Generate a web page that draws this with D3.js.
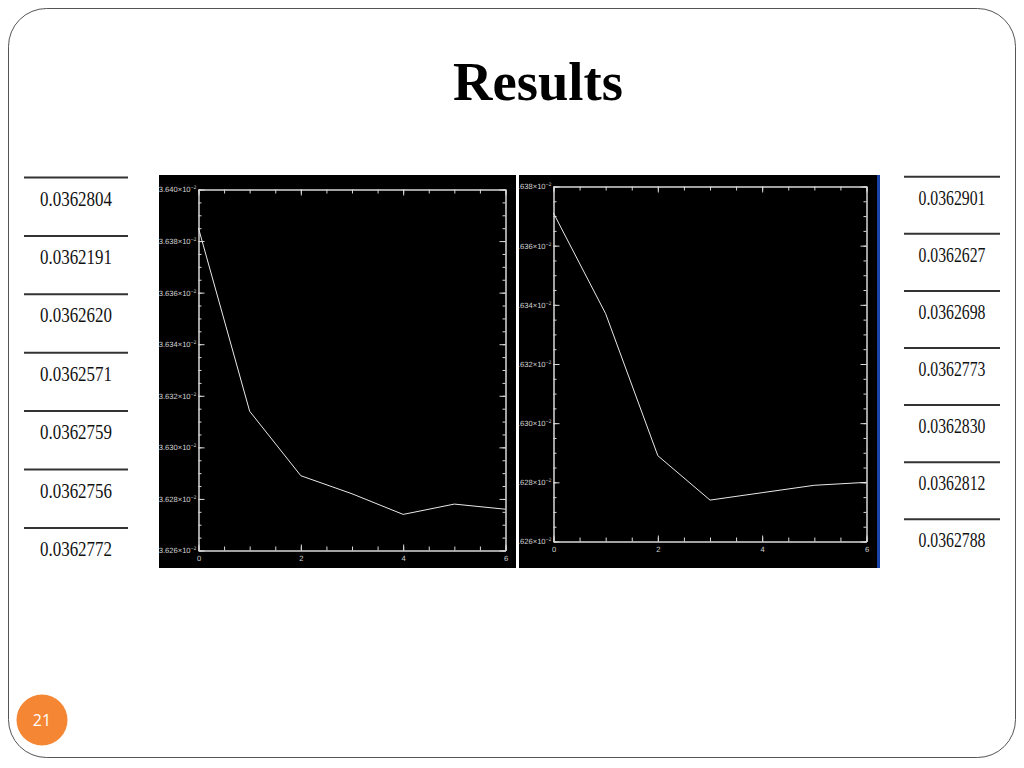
<!DOCTYPE html>
<html><head><meta charset="utf-8">
<script src="https://cdn.jsdelivr.net/npm/d3@7"></script>
<style>html,body{margin:0;padding:0;background:#fff;}svg{display:block;}</style>
</head><body>
<svg id="c" width="1024" height="768"></svg>
<script>
// ---------- data ----------
const steps = [0, 1, 2, 3, 4, 5, 6];
const leftSeries  = [0.036385, 0.036314, 0.036289, 0.036282, 0.036274, 0.036278, 0.036276];
const rightSeries = [0.036371, 0.036337, 0.036289, 0.036274, 0.0362765, 0.036279, 0.036280];
const leftYTicks  = [0.03626, 0.03628, 0.03630, 0.03632, 0.03634, 0.03636, 0.03638, 0.03640];
const rightYTicks = [0.03626, 0.03628, 0.03630, 0.03632, 0.03634, 0.03636, 0.03638];
const xTicks = [0, 2, 4, 6];
const leftTable  = ["0.0362804", "0.0362191", "0.0362620", "0.0362571", "0.0362759", "0.0362756", "0.0362772"];
const rightTable = ["0.0362901", "0.0362627", "0.0362698", "0.0362773", "0.0362830", "0.0362812", "0.0362788"];
const title = "Results";
const pageNumber = "21";

// ---------- page ----------
const svg = d3.select("#c");
svg.append("rect").attr("x", 8.5).attr("y", 8.5).attr("width", 1007).attr("height", 749)
  .attr("rx", 38).attr("ry", 38).attr("fill", "#fff").attr("stroke", "#555").attr("stroke-width", 1);

svg.append("text").attr("x", 538).attr("y", 100).attr("text-anchor", "middle")
  .attr("font-family", "'Liberation Serif','Times New Roman',serif").attr("font-weight", "bold")
  .attr("font-size", 54).attr("textLength", 170).attr("lengthAdjust", "spacingAndGlyphs")
  .attr("fill", "#000").text(title);

svg.append("circle").attr("cx", 42).attr("cy", 720).attr("r", 25.5).attr("fill", "#F58634");
svg.append("text").attr("x", 42).attr("y", 726).attr("text-anchor", "middle")
  .attr("font-family", "'Open Sans','Liberation Sans',sans-serif").attr("font-size", 16)
  .attr("fill", "#fff").text(pageNumber);

// ---------- tables ----------
function table(values, x0, x1, yFirst, yStep, textW) {
  const g = svg.append("g");
  const ys = d3.scaleLinear().domain([0, 1]).range([yFirst, yFirst + yStep]);
  values.forEach((v, i) => {
    const y = ys(i);
    g.append("line").attr("x1", x0).attr("x2", x1).attr("y1", y).attr("y2", y)
      .attr("stroke", "#333").attr("stroke-width", 2);
    g.append("text").attr("x", (x0 + x1) / 2).attr("y", y + 28).attr("text-anchor", "middle")
      .attr("font-family", "'Liberation Serif','Times New Roman',serif").attr("font-size", 22)
      .attr("textLength", textW).attr("lengthAdjust", "spacingAndGlyphs")
      .attr("fill", "#111").text(v);
  });
}
table(leftTable, 24, 128, 177.5, 58.4, 72);
table(rightTable, 904, 1000, 176.7, 57.1, 67);

// ---------- charts ----------
function chart(opts) {
  const { panel, plot, yTicks, series, id } = opts;
  svg.append("rect").attr("x", panel.x).attr("y", panel.y).attr("width", panel.w).attr("height", panel.h).attr("fill", "#000");
  svg.append("clipPath").attr("id", id).append("rect")
    .attr("x", panel.x).attr("y", panel.y).attr("width", panel.w).attr("height", panel.h);
  const g = svg.append("g").attr("clip-path", `url(#${id})`);

  const x = d3.scaleLinear().domain([0, 6]).range([plot.x0, plot.x1]);
  const y = d3.scaleLinear().domain([yTicks[0], yTicks[yTicks.length - 1]]).range([plot.y1, plot.y0]);

  const xMinor = d3.range(0, 13).map(i => i * 0.5);
  const yMinor = d3.range(0, (yTicks.length - 1) * 4 + 1).map(i => yTicks[0] + i * 0.000005);

  const col = "#d8d8d8";
  function style(sel) {
    sel.selectAll("path,line").attr("stroke", col).attr("stroke-width", 1);
    sel.selectAll("text").attr("fill", "#d0d0d0")
      .attr("font-family", "'Liberation Sans','DejaVu Sans',sans-serif").attr("font-size", 7.6)
      .style("text-rendering", "geometricPrecision");
  }

  // minor ticks (all four sides)
  style(g.append("g").attr("transform", `translate(${plot.x0},0)`)
    .call(d3.axisLeft(y).tickValues(yMinor).tickSize(-3).tickSizeOuter(0).tickFormat("")));
  style(g.append("g").attr("transform", `translate(${plot.x1},0)`)
    .call(d3.axisRight(y).tickValues(yMinor).tickSize(-3).tickSizeOuter(0).tickFormat("")));
  style(g.append("g").attr("transform", `translate(0,${plot.y1})`)
    .call(d3.axisBottom(x).tickValues(xMinor).tickSize(-4).tickSizeOuter(0).tickFormat("")));
  style(g.append("g").attr("transform", `translate(0,${plot.y0})`)
    .call(d3.axisTop(x).tickValues(xMinor).tickSize(-4).tickSizeOuter(0).tickFormat("")));

  // major ticks with labels
  const yAx = g.append("g").attr("transform", `translate(${plot.x0},0)`)
    .call(d3.axisLeft(y).tickValues(yTicks).tickSize(-6).tickSizeOuter(0).tickPadding(2)
      .tickFormat(d => (d * 100).toFixed(3) + "×10"));
  style(yAx);
  yAx.selectAll("text").append("tspan").attr("dy", -3).attr("font-size", 5.2).text("−2");
  const xAx = g.append("g").attr("transform", `translate(0,${plot.y1})`)
    .call(d3.axisBottom(x).tickValues(xTicks).tickSize(-6).tickSizeOuter(0).tickPadding(5).tickFormat(d3.format("d")));
  style(xAx);
  style(g.append("g").attr("transform", `translate(${plot.x1},0)`)
    .call(d3.axisRight(y).tickValues(yTicks).tickSize(-6).tickSizeOuter(0).tickFormat("")));
  style(g.append("g").attr("transform", `translate(0,${plot.y0})`)
    .call(d3.axisTop(x).tickValues(xTicks).tickSize(-6).tickSizeOuter(0).tickFormat("")));

  g.append("path").datum(series)
    .attr("fill", "none").attr("stroke", "#e8e8e8").attr("stroke-width", 1)
    .attr("d", d3.line().x((d, i) => x(steps[i])).y(d => y(d)));
}

chart({
  id: "clipL",
  panel: { x: 159, y: 175, w: 357, h: 393 },
  plot: { x0: 198.5, x1: 505.5, y0: 189.5, y1: 550.5 },
  yTicks: leftYTicks, series: leftSeries
});
chart({
  id: "clipR",
  panel: { x: 519, y: 175, w: 359, h: 393 },
  plot: { x0: 553.5, x1: 866.5, y0: 186.5, y1: 541.5 },
  yTicks: rightYTicks, series: rightSeries
});
svg.append("rect").attr("x", 877).attr("y", 175).attr("width", 3).attr("height", 393).attr("fill", "#1c44a8");
</script>
</body></html>
